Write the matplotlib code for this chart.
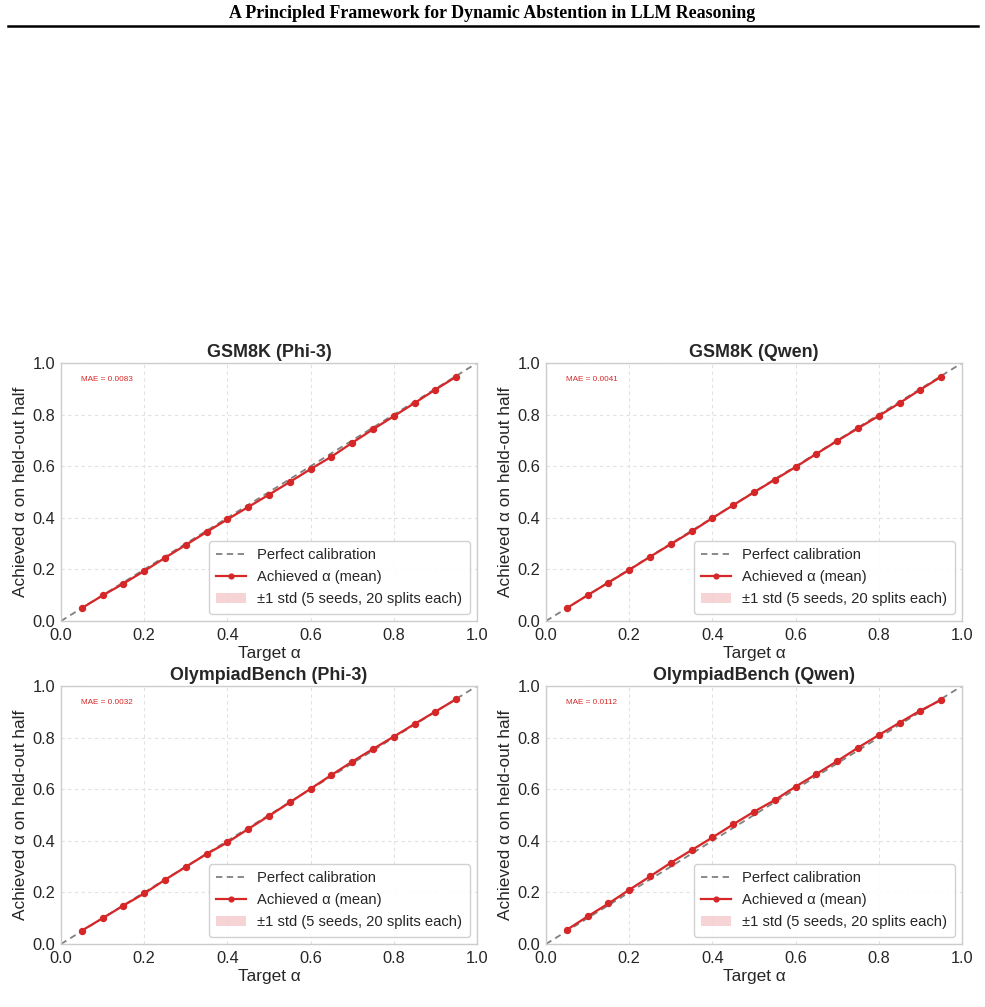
import matplotlib
matplotlib.use("Agg")
import matplotlib.pyplot as plt
from matplotlib.lines import Line2D

plt.rcParams['font.family'] = ['Liberation Sans', 'DejaVu Sans']

header = "A Principled Framework for Dynamic Abstention in LLM Reasoning"

target = [0.05, 0.10, 0.15, 0.20, 0.25, 0.30, 0.35, 0.40, 0.45, 0.50,
          0.55, 0.60, 0.65, 0.70, 0.75, 0.80, 0.85, 0.90, 0.95]

titles = ["GSM8K (Phi-3)", "GSM8K (Qwen)", "OlympiadBench (Phi-3)", "OlympiadBench (Qwen)"]
mae_labels = ["MAE = 0.0083", "MAE = 0.0041", "MAE = 0.0032", "MAE = 0.0112"]

gsm_phi3 = [0.050, 0.099, 0.145, 0.194, 0.245, 0.295, 0.345, 0.394, 0.442, 0.490,
            0.539, 0.589, 0.637, 0.691, 0.743, 0.794, 0.845, 0.897, 0.947]
gsm_qwen = [0.050, 0.100, 0.149, 0.198, 0.249, 0.298, 0.347, 0.399, 0.449, 0.499,
            0.548, 0.597, 0.648, 0.698, 0.747, 0.795, 0.845, 0.897, 0.947]
oly_phi3 = [0.052, 0.100, 0.149, 0.196, 0.249, 0.299, 0.349, 0.394, 0.446, 0.497,
            0.549, 0.602, 0.655, 0.707, 0.756, 0.804, 0.853, 0.901, 0.949]
oly_qwen = [0.055, 0.107, 0.157, 0.210, 0.262, 0.315, 0.364, 0.413, 0.464, 0.513,
            0.558, 0.610, 0.659, 0.709, 0.761, 0.810, 0.858, 0.905, 0.946]

std_gsm_phi3 = [0.002, 0.002, 0.003, 0.003, 0.003, 0.003, 0.003, 0.003, 0.003, 0.003,
                0.003, 0.003, 0.003, 0.003, 0.003, 0.003, 0.002, 0.002, 0.002]
std_gsm_qwen = [0.002, 0.002, 0.002, 0.002, 0.003, 0.003, 0.003, 0.003, 0.003, 0.003,
                0.003, 0.003, 0.003, 0.003, 0.002, 0.002, 0.002, 0.002, 0.002]
std_oly_phi3 = [0.002, 0.003, 0.003, 0.003, 0.003, 0.003, 0.004, 0.004, 0.004, 0.004,
                0.004, 0.004, 0.004, 0.003, 0.003, 0.003, 0.003, 0.002, 0.002]
std_oly_qwen = [0.003, 0.003, 0.003, 0.004, 0.004, 0.004, 0.004, 0.004, 0.004, 0.004,
                0.004, 0.004, 0.004, 0.004, 0.003, 0.003, 0.003, 0.003, 0.002]

achieved = [gsm_phi3, gsm_qwen, oly_phi3, oly_qwen]
stds = [std_gsm_phi3, std_gsm_qwen, std_oly_phi3, std_oly_qwen]
ticks = [0.0, 0.2, 0.4, 0.6, 0.8, 1.0]

W, H = 985, 1007
fig = plt.figure(figsize=(W / 100, H / 100), dpi=100)

# header
fig.text(0.5, 1 - 13 / H, header, ha='center', va='center',
         fontsize=12.9, fontweight='bold', family=['Liberation Serif', 'DejaVu Serif'])
fig.add_artist(Line2D([8 / W, 978 / W], [1 - 25.5 / H, 1 - 25.5 / H],
                      color='black', linewidth=1.8, transform=fig.transFigure))

red = '#d62728'
text_c = '#262626'
lefts = [61, 546, 61, 546]
bottoms = [621, 621, 944, 944]
aw, ah = 416, 258

for i in range(4):
    ax = fig.add_axes([lefts[i] / W, 1 - bottoms[i] / H, aw / W, ah / H])
    ax.set_facecolor('white')
    ax.plot([0, 1], [0, 1], linestyle=(0, (3.5, 2.5)), color='#808080', linewidth=1.3,
            label='Perfect calibration', zorder=2)
    lo = [m - s for m, s in zip(achieved[i], stds[i])]
    hi = [m + s for m, s in zip(achieved[i], stds[i])]
    ax.fill_between(target, lo, hi, color=red, alpha=0.2, linewidth=0,
                    label='±1 std (5 seeds, 20 splits each)', zorder=2)
    ax.plot(target, achieved[i], color=red, linewidth=1.6, marker='o',
            markersize=4.3, label='Achieved α (mean)', zorder=3)
    ax.set_xlim(0, 1)
    ax.set_ylim(0, 1)
    ax.set_xticks(ticks)
    ax.set_yticks(ticks)
    ax.set_xticklabels([f"{t:.1f}" for t in ticks])
    ax.set_yticklabels([f"{t:.1f}" for t in ticks])
    ax.tick_params(axis='x', labelsize=11.8, length=0, pad=5, colors=text_c)
    ax.tick_params(axis='y', labelsize=11.8, length=0, pad=4, colors=text_c)
    ax.grid(True, linestyle=(0, (3, 3)), color='#e2e2e2', linewidth=0.8)
    ax.set_axisbelow(True)
    for sp in ax.spines.values():
        sp.set_color('#cccccc')
        sp.set_linewidth(1.0)
    ax.set_title(titles[i], fontsize=12.9, fontweight='bold', color=text_c, pad=4)
    ax.set_xlabel('Target α', fontsize=12.4, color=text_c, labelpad=2)
    ax.set_ylabel('Achieved α on held-out half', fontsize=12.4, color=text_c, labelpad=3)
    ax.text(0.048, 0.95, mae_labels[i], transform=ax.transAxes, fontsize=5.9,
            color=red, ha='left', va='top')
    handles, labels = ax.get_legend_handles_labels()
    order = [0, 2, 1]
    leg = ax.legend([handles[k] for k in order], [labels[k] for k in order],
                    loc='lower right', fontsize=10.6, frameon=True, fancybox=True,
                    edgecolor='#cccccc', framealpha=0.9, handlelength=2.0,
                    borderpad=0.5, labelspacing=0.55, markerscale=0.8)
    for t in leg.get_texts():
        t.set_color(text_c)

fig.savefig('out.png', dpi=100, facecolor='white')
